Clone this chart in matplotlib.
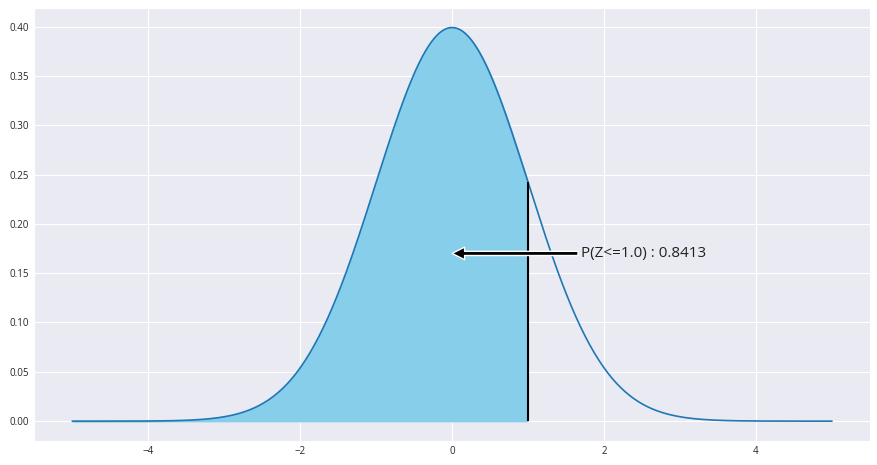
import numpy as np
import matplotlib.pyplot as plt
import seaborn as sns

sns.set_style('darkgrid')
plt.rcParams['font.family'] = ['Open Sans', 'DejaVu Sans']

# standard normal, P(Z <= z_cut)
mu = 0.0
sigma = 1.0
z_cut = 1.0
prob = 0.8413
x_range = [-5, 5]
y_ticks = [0.00, 0.05, 0.10, 0.15, 0.20, 0.25, 0.30, 0.35, 0.40]
x_ticks = [-4, -2, 0, 2, 4]

x = np.linspace(x_range[0], x_range[1], 500)
y = np.exp(-0.5 * ((x - mu) / sigma) ** 2) / (sigma * np.sqrt(2 * np.pi))

fig, ax = plt.subplots(figsize=(8.77, 4.65), dpi=100)
ax.plot(x, y, color='tab:blue', lw=1.2)
mask = x <= z_cut
ax.fill_between(x[mask], y[mask], color='skyblue')
y_cut = np.exp(-0.5 * ((z_cut - mu) / sigma) ** 2) / (sigma * np.sqrt(2 * np.pi))
ax.vlines(z_cut, 0, y_cut, color='black', lw=1.5)

ax.annotate('P(Z<=1.0) : %.4f' % prob, xy=(0, 0.17), xytext=(1.7, 0.17),
            fontsize=11, color='#222222', va='center',
            arrowprops=dict(facecolor='black', edgecolor='white', width=3,
                            headwidth=9, headlength=9, shrink=0.0))

ax.set_xticks(x_ticks)
ax.set_yticks(y_ticks)
ax.set_yticklabels(['%.2f' % v for v in y_ticks])
ax.tick_params(labelsize=7, length=0)

plt.subplots_adjust(left=0.039, right=0.992, top=0.983, bottom=0.052)
plt.savefig('out.png')
